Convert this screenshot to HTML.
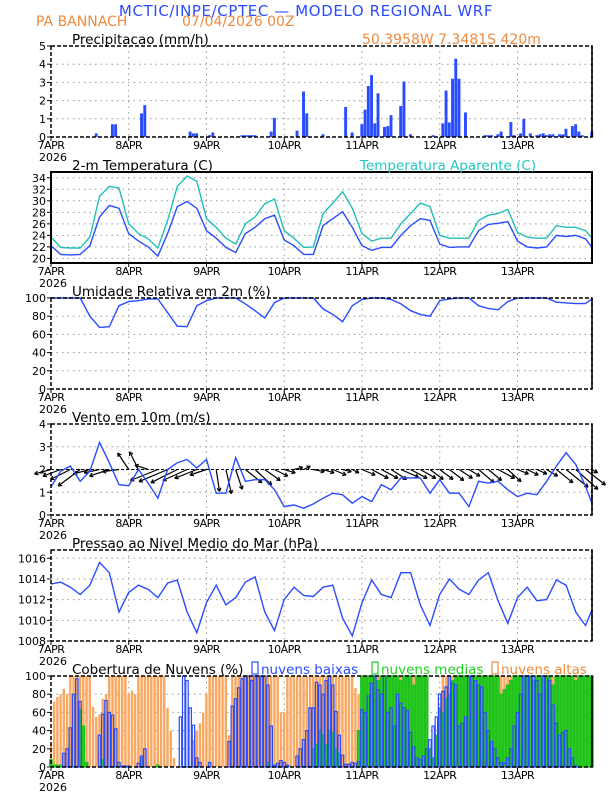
<!DOCTYPE html>
<html><head><meta charset="utf-8"><style>
body{margin:0;background:#fff}
svg{display:block;font-family:"DejaVu Sans","Liberation Sans",sans-serif}
</style></head><body>
<svg id="c" width="612" height="792" viewBox="0 0 612 792">
<text x="306" y="16" text-anchor="middle" font-size="15" fill="#2a4cff" letter-spacing="0.6">MCTIC/INPE/CPTEC — MODELO REGIONAL WRF</text>
<text x="36" y="26" font-size="14" fill="#f08a3c">PA BANNACH</text>
<text x="182" y="26" font-size="14" fill="#f08a3c">07/04/2026 00Z</text>
<text x="362" y="44" font-size="14" fill="#f08a3c">50.3958W 7.3481S 420m</text>
</svg>
<script>
const dayLabels=["7APR","8APR","9APR","10APR","11APR","12APR","13APR"];
const precipHours=[14,19,20,28,29,43,44,45,49,50,59,60,61,62,63,68,69,76,78,79,84,91,93,96,97,98,99,100,101,103,104,105,108,109,111,118,121,122,123,124,125,126,128,134,135,136,138,139,142,143,145,146,148,150,151,152,153,154,155,157,158,159,161,162,163,164,167];
const precipVals=[0.2,0.7,0.7,1.3,1.75,0.3,0.2,0.2,0.1,0.25,0.1,0.1,0.1,0.1,0.1,0.3,1.05,0.35,2.5,1.3,0.15,1.65,0.25,0.7,1.5,2.8,3.4,0.75,2.4,0.55,0.6,1.2,1.7,3.05,0.15,0.1,0.75,2.55,0.8,3.2,4.3,3.2,1.35,0.1,0.1,0.1,0.15,0.3,0.82,0.1,0.2,1.0,0.2,0.1,0.15,0.2,0.1,0.15,0.15,0.15,0.15,0.45,0.6,0.7,0.3,0.1,0.3];
const lineHours=[0,3,6,9,12,15,18,21,24,27,30,33,36,39,42,45,48,51,54,57,60,63,66,69,72,75,78,81,84,87,90,93,96,99,102,105,108,111,114,117,120,123,126,129,132,135,138,141,144,147,150,153,156,159,162,165,167];
const temp=[22.2,20.7,20.6,20.7,22.2,27.2,29.2,28.7,24.3,23,22,20.4,24.3,29,29.9,28.7,24.8,23.5,21.9,21,24.3,25.4,26.9,27.5,23.2,22.2,20.7,20.7,25.7,26.9,28.1,25.4,22.2,21.4,21.9,21.9,24,25.7,26.9,26.6,22.5,21.9,22,22,24.8,25.9,26.1,26.4,23,22,21.8,22,24,23.8,24,23.4,21.9];
const tempApp=[23.7,21.9,21.8,21.8,23.7,30.8,32.5,32.2,26,24.3,23.4,21.8,26.6,32.5,34.3,33.4,26.9,25.4,23.5,22.5,26,27.2,29.5,30.3,24.8,23.5,21.9,22,27.8,29.6,31.6,28.7,24.3,23,23.5,23.5,26,27.8,29.6,29,24,23.5,23.5,23.5,26.6,27.5,27.8,28.5,24.5,23.7,23.5,23.5,25.7,25.4,25.4,24.8,23.5];
const rh=[100,100,100,100,80,67.7,68.5,91.5,96,97,99,99,84,69,68.5,91.5,97,100,100,100,93.5,86,78,95,100,100,100,100,88,82,74,91.5,98.5,100,100,98.5,93.5,86,82,80,97,99,100,100,91.5,88.5,87,96,100,100,100,100,95.4,94.6,93.8,93.8,99];
const windSpd=[1.23,1.93,2.15,1.48,1.93,3.19,2.3,1.33,1.29,2,1.4,0.74,2,2.3,2.44,2.07,2.44,0.96,0.96,2.52,1.48,1.55,1.55,1.11,0.37,0.44,0.3,0.49,0.74,0.96,0.89,0.52,0.81,0.59,1.33,1.11,1.63,1.63,1.63,0.96,1.55,0.96,0.96,0.37,1.48,1.4,1.48,1.11,0.81,0.96,0.89,1.48,2.15,2.74,2.22,1.26,0.52];
const windU=[-1.5,-1.6,-1.8,-2,-1.5,-1.4,-1.8,-1.5,-1,-0.8,-1.2,-2.5,-2.6,-2.4,-2.2,-2,-1.5,0.3,0.5,0.6,1.5,1.5,1.4,1.2,1,0.8,0.6,1,1,1.2,0.8,0.6,1.2,1.5,1.5,1.4,1.6,1.5,1.4,1.2,1.2,1.3,1.2,1,1.4,1.2,1.5,1.2,1,1,0.9,1,1.5,2,2,1.8,0.5];
const windV=[-0.4,-0.6,-0.9,-1.5,-0.4,-0.3,-0.6,-0.2,1.5,1.6,0.4,-1,-1.1,-1.2,-1,-0.8,-0.5,-2,-2.2,-1.8,-1.2,-1.4,-1,-0.6,-0.3,0.2,0.3,-0.2,-0.3,-0.5,-0.2,-0.3,-0.5,-0.8,-0.8,-0.9,-0.7,-0.8,-0.8,-0.9,-0.9,-1,-0.8,-0.6,-1.2,-1,-0.8,-1.1,-0.4,-0.5,-0.4,-0.6,-1.2,-1.6,-1.8,-1.4,-0.3];
const pres=[1013.5,1013.7,1013.2,1012.5,1013.4,1015.6,1014.6,1010.8,1012.7,1013.4,1013,1012.2,1013.6,1013.9,1010.8,1008.8,1011.7,1013.4,1011.5,1012.2,1013.7,1014.2,1010.8,1009,1012,1013.2,1012.4,1012.3,1013.2,1013.4,1010.2,1008.5,1011.7,1013.9,1012.5,1012.2,1014.6,1014.6,1011.5,1009.5,1012.5,1014,1013,1012.5,1013.9,1014.6,1011.9,1009.7,1012.2,1013.2,1011.9,1012,1013.9,1013.4,1010.8,1009.5,1011];
const cloudHigh=[25,72,77,80,86,80,100,100,100,100,100,100,100,66,55,58,75,80,100,100,100,100,100,100,80,84,80,100,100,100,100,100,100,100,100,100,65,40,10,0,0,0,0,0,30,40,48,60,80,100,100,100,100,100,100,35,100,100,100,100,100,100,100,100,100,100,100,100,100,100,100,60,60,100,100,100,100,100,100,100,100,100,100,100,100,100,100,100,100,100,100,100,100,100,87,80,82,100,100,100,100,100,100,100,100,100,100,100,100,100,100,100,100,100,100,100,60,20,0,0,65,100,100,100,100,100,100,100,100,100,100,100,100,100,100,100,100,100,100,100,100,100,100,100,100,100,100,100,100,100,100,100,100,100,100,100,100,100,100,100,100,100,100,100,100,100,100,100];
const cloudMid=[8,2,2,2,0,0,0,0,0,63,45,5,0,0,0,0,8,0,0,0,0,0,0,0,0,0,0,0,10,0,0,0,0,2,0,0,0,0,0,0,0,0,0,0,0,0,0,0,0,0,0,0,0,0,0,0,0,0,0,0,0,0,0,0,0,0,0,5,0,0,0,0,0,0,0,0,0,0,0,0,0,20,25,40,35,25,40,38,20,15,0,0,0,0,0,40,100,100,100,100,100,95,100,100,100,100,100,100,95,100,100,100,90,100,100,100,100,20,10,35,65,60,75,80,95,100,100,100,100,100,100,100,100,100,100,100,100,100,100,80,85,90,95,100,100,100,100,100,100,95,100,100,100,100,100,90,100,100,100,100,100,100,95,100,100,100,100,100];
const cloudLow=[0,0,0,0,15,20,43,80,97,72,0,0,0,0,0,35,58,73,60,57,42,5,1,1,1,0,0,4,12,20,0,0,0,0,0,0,0,0,0,0,55,100,95,65,46,10,5,0,0,5,0,0,0,0,0,28,67,75,87,97,100,100,95,100,100,100,100,90,45,2,4,7,5,2,0,0,12,20,30,40,65,65,93,90,80,95,100,90,61,35,13,3,3,5,4,6,63,60,78,92,100,85,80,100,60,65,45,80,70,65,62,38,22,10,8,12,20,30,45,55,80,83,88,100,92,90,45,48,55,100,100,95,90,88,60,40,28,20,10,5,4,10,20,45,60,80,100,100,100,100,95,80,100,100,95,68,48,35,38,40,20,10,1,0,0,0,0,0];

const NS='http://www.w3.org/2000/svg';
const svg=document.getElementById('c');
const X0=51,X1=592,HMAX=167;
function xs(h){return X0+(X1-X0)*h/HMAX;}
function mk(tag,attrs,parent){const e=document.createElementNS(NS,tag);for(const k in attrs)e.setAttribute(k,attrs[k]);(parent||svg).appendChild(e);return e;}
const BLUE='#2a4cff';
function panel(name,top,bot,ymin,ymax,ticks,tickLabels,title,solid){
  const g=mk('g',{});
  
  
  const ys=v=>bot-(bot-top)*(v-ymin)/(ymax-ymin);
  ticks.forEach((t,i)=>{
    const y=ys(t);
    if(t>ymin&&t<ymax){const gl=mk('line',{x1:X0,x2:X1,y1:y,y2:y,stroke:'#999','stroke-dasharray':'1.5,4','stroke-width':1},g);
      }
    const tl=mk('line',{x1:X0-4,x2:X0,y1:y,y2:y,stroke:'#000'},g);
    
    const tx=mk('text',{x:X0-5,y:y+4,'text-anchor':'end','font-size':11,fill:'#000'},g);
    tx.textContent=tickLabels[i];
    
  });
  dayLabels.forEach((d,i)=>{
    const x=xs(i*24);
    if(i>0){const vl=mk('line',{x1:x,x2:x,y1:top,y2:bot,stroke:'#999','stroke-dasharray':'1.5,4'},g);
      }
    mk('line',{x1:x,x2:x,y1:bot,y2:bot+4,stroke:'#000'},g);
    const tx=mk('text',{x:x,y:bot+12,'text-anchor':'middle','font-size':11,'letter-spacing':'-0.5'},g);
    tx.textContent=d;
    
  });
  const yr=mk('text',{x:X0-12,y:bot+24,'font-size':11},g);yr.textContent='2026';
  
  const tt=mk('text',{x:72,y:top-2,'font-size':13.5},g);tt.textContent=title;
  
  return {g,ys,top,bot,frame:()=>{
    const f=mk('rect',{x:X0,y:top,width:X1-X0,height:bot-top,fill:'none',stroke:'#000','stroke-width':solid?2:1.5,'stroke-dasharray':solid?'none':'4,2'},g);
    
    if(!solid){mk('line',{x1:X1,x2:X1,y1:top,y2:bot,stroke:'#000','stroke-width':1.5},g);}
  }};
}
function polyline(p,vals,color,name){
  const pts=vals.map((v,i)=>xs(lineHours[i]).toFixed(1)+','+p.ys(v).toFixed(1)).join(' ');
  const l=mk('polyline',{points:pts,fill:'none',stroke:color,'stroke-width':1.4},p.g);
  
}
const bw=(X1-X0)/HMAX;
// Precip
const p1=panel('precip',46,137,0,5,[0,1,2,3,4,5],['0','1','2','3','4','5'],'Precipitacao (mm/h)');
precipHours.forEach((h,i)=>{
  const y=p1.ys(precipVals[i]);
  const r=mk('rect',{x:xs(h)-bw/2,y:y,width:bw*0.9,height:p1.bot-y,fill:BLUE},p1.g);
  
});
p1.frame();
// Temp
const p2=panel('temp',172,263,19.2,35,[20,22,24,26,28,30,32,34],['20','22','24','26','28','30','32','34'],'2-m Temperatura (C)',true);
polyline(p2,tempApp,'#20c0b8','apparent-temp-line');
polyline(p2,temp,BLUE,'temp-line');
p2.frame();
const ta=mk('text',{x:360,y:170,'font-size':13.5,fill:'#20c8c0'});ta.textContent='Temperatura Aparente (C)';

// RH
const p3=panel('rh',298,389,0,100,[0,20,40,60,80,100],['0','20','40','60','80','100'],'Umidade Relativa em 2m (%)');
polyline(p3,rh,BLUE,'rh-line');
p3.frame();
// Wind
const p4=panel('wind',424,515,0,4,[0,1,2,3,4],['0','1','2','3','4'],'Vento em 10m (m/s)');
windU.forEach((u,i)=>{
  const x=xs(lineHours[i]),y=p4.ys(2);
  const x2=x+u*11,y2=y-windV[i]*11;
  const a=mk('line',{x1:x,y1:y,x2:x2,y2:y2,stroke:'#000','stroke-width':1.2},p4.g);
  
  const ang=Math.atan2(y2-y,x2-x);
  const hd=mk('path',{d:`M${x2},${y2} L${x2-4*Math.cos(ang-0.5)},${y2-4*Math.sin(ang-0.5)} M${x2},${y2} L${x2-4*Math.cos(ang+0.5)},${y2-4*Math.sin(ang+0.5)}`,stroke:'#000',fill:'none','stroke-width':1.2},p4.g);
  
});
mk('line',{x1:X0,x2:X1,y1:p4.ys(2),y2:p4.ys(2),stroke:'#000','stroke-dasharray':'3,2'},p4.g);
polyline(p4,windSpd,BLUE,'wind-speed-line');
p4.frame();
// Pressure
const p5=panel('pressure',550,641,1008,1016.8,[1008,1010,1012,1014,1016],['1008','1010','1012','1014','1016'],'Pressao ao Nivel Medio do Mar (hPa)');
polyline(p5,pres,BLUE,'pressure-line');
p5.frame();
// Clouds
const p6=panel('cloud',676,767,0,100,[0,20,40,60,80,100],['0','20','40','60','80','100'],'Cobertura de Nuvens (%)');
function cbars(vals,fill,stroke,name){
  vals.forEach((v,h)=>{
    if(v<=0)return;
    const y=p6.ys(v);
    const r=mk('rect',{x:xs(h)-bw/2+0.3,y:y,width:bw-0.8,height:p6.bot-y,fill:fill,stroke:stroke,'stroke-width':stroke=='none'?0:1.2},p6.g);
    
  });
}
cbars(cloudHigh,'#f8a860','none','high-cloud-bar');
cbars(cloudMid,'#30cc20','#20c020','mid-cloud-bar');
cbars(cloudLow,'none',BLUE,'low-cloud-bar');
p6.frame();
const leg=[['nuvens baixas',BLUE,252],['nuvens medias','#20d020',372],['nuvens altas','#f08a3c',492]];
leg.forEach(l=>{
  const b=mk('rect',{x:l[2],y:662,width:6,height:12,fill:'none',stroke:l[1],'stroke-width':1.2});
  
  const t=mk('text',{x:l[2]+9,y:674,'font-size':13.5,fill:l[1]});t.textContent=l[0];
  
});
</script>
</body></html>
